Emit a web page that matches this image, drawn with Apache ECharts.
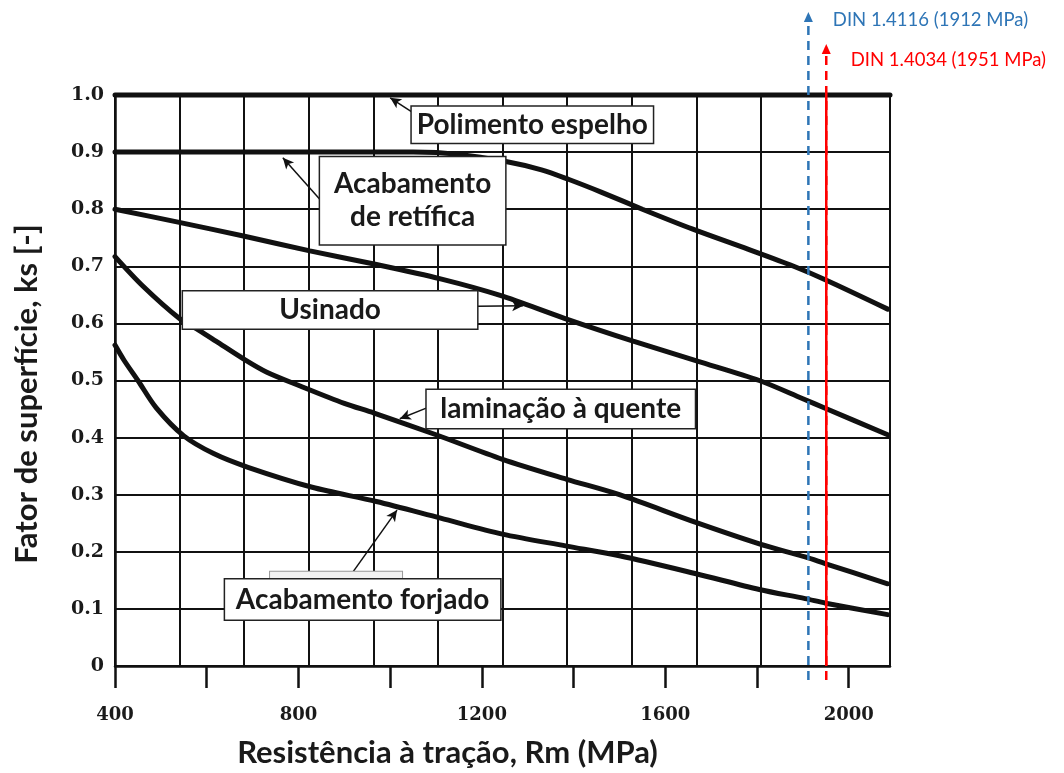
<!DOCTYPE html>
<html><head><meta charset="utf-8">
<script src="https://cdn.jsdelivr.net/npm/echarts@6/dist/echarts.min.js"></script>
<style>html,body{margin:0;padding:0;background:#fff}#c{width:1064px;height:773px}</style>
</head><body><div id="c"></div>
<script>
// ---------- data ----------
const xTickValues = [400, 600, 800, 1000, 1200, 1400, 1600, 1800, 2000];
const xLabelValues = [400, 800, 1200, 1600, 2000];
const xTitle = 'Resistência à tração, Rm (MPa)';
const yTitle = 'Fator de superfície, ks [-]';

const polimentoEspelho = [[400, 1.0], [2090, 1.0]];
const acabamentoRetifica = [[400, 0.9], [800, 0.9], [1050, 0.9], [1150, 0.896], [1255, 0.883], [1330, 0.869], [1390, 0.852], [1460, 0.83], [1550, 0.8], [1660, 0.765], [1780, 0.73], [1880, 0.7], [1950, 0.676], [2085, 0.625]];
const usinado = [[400, 0.8], [540, 0.777], [680, 0.753], [825, 0.727], [965, 0.704], [1110, 0.678], [1240, 0.649], [1380, 0.609], [1530, 0.569], [1670, 0.534], [1805, 0.5], [1900, 0.468], [1950, 0.451], [2085, 0.405]];
const laminacaoQuente = [[400, 0.717], [460, 0.666], [540, 0.609], [585, 0.587], [620, 0.569], [680, 0.538], [730, 0.515], [805, 0.49], [900, 0.46], [965, 0.443], [1100, 0.405], [1245, 0.362], [1385, 0.327], [1500, 0.3], [1665, 0.252], [1805, 0.214], [1905, 0.191], [1950, 0.179], [2085, 0.144]];
const acabamentoForjado = [[400, 0.562], [420, 0.535], [450, 0.5], [490, 0.452], [550, 0.403], [615, 0.372], [690, 0.348], [830, 0.313], [970, 0.288], [1110, 0.259], [1245, 0.231], [1385, 0.21], [1500, 0.193], [1665, 0.162], [1805, 0.134], [1905, 0.118], [1950, 0.11], [2085, 0.09]];

const curveNames = ['Polimento espelho', 'Acabamento de retífica', 'Usinado', 'laminação à quente', 'Acabamento forjado'];
const annotationTexts = ['Polimento espelho', 'Acabamento\nde retífica', 'Usinado', 'laminação à quente', 'Acabamento forjado'];

const materialNames = ['DIN 1.4116', 'DIN 1.4034'];
const materialRm = [1912, 1951];

// ---------- layout / style (not data) ----------
const INK = '#111';
const annotationLayout = [
  { at: [1310, 0.948], w: 241, h: 36 },
  { at: [1049, 0.815], w: 185, h: 87 },
  { at: [869, 0.6235], w: 294, h: 37 },
  { at: [1372, 0.45], w: 268, h: 38 },
  { at: [940, 0.1165], w: 275, h: 40 }
];
const ghostBox = { at: [882, 0.158], w: 132, h: 8 };
const arrowLayout = [
  [[1048, 0.970], [1000, 0.995]],
  [[847, 0.817], [766, 0.890]],
  [[1189, 0.630], [1290, 0.631]],
  [[1080, 0.452], [1021, 0.433]],
  [[912, 0.157], [1015, 0.273]]
];
const materialStyle = [
  { color: '#2E75B6', top: 0.9896, labelOffset: [0, 3] },
  { color: '#FF0000', top: 0.9418, labelOffset: [0, 11] }
];
const BOX_FONT = { fontFamily: 'Lato', fontWeight: 'bold', fontSize: 28, color: '#1a1a1a' };
const TITLE_FONT = { fontFamily: 'Lato', fontWeight: 'bold', color: '#1a1a1a' };
const TICK_FONT = { fontFamily: 'DejaVu Serif', fontWeight: 'bold', fontSize: 18, color: '#1a1a1a' };

// ---------- build ----------
const curves = [polimentoEspelho, acabamentoRetifica, usinado, laminacaoQuente, acabamentoForjado];
const series = [];
curves.forEach((d, i) => {
  series.push({
    name: curveNames[i], type: 'line', xAxisIndex: 0, yAxisIndex: 0,
    data: d, smooth: 0.3, symbol: 'none', clip: false, silent: true, z: 3,
    lineStyle: { color: INK, width: 5, cap: 'round' }
  });
});

materialNames.forEach((n, i) => {
  const st = materialStyle[i];
  if (i === 1) {
    series.push({
      type: 'line', xAxisIndex: 0, yAxisIndex: 0, silent: true, z: 4, symbol: 'none',
      data: [[materialRm[i], 0], [materialRm[i], 1]],
      lineStyle: { color: st.color, width: 2.5 }
    });
  }
  series.push({
    type: 'line', xAxisIndex: 2, yAxisIndex: 1, silent: true, z: 5, clip: false,
    data: [
      { value: [materialRm[i], 0], symbol: 'none' },
      { value: [materialRm[i], st.top], symbol: 'triangle', symbolSize: [9, 10],
        label: { show: true, position: 'right', distance: 20, offset: st.labelOffset,
          formatter: n + ' (' + materialRm[i] + ' MPa)',
          fontFamily: 'Lato', fontSize: 18.5, color: st.color } }
    ],
    itemStyle: { color: st.color },
    lineStyle: { color: st.color, width: 2.5, type: [9, 6] }
  });
});

const annData = [{
  value: ghostBox.at, label: { show: true, formatter: ' ', width: ghostBox.w, height: ghostBox.h,
    backgroundColor: '#f2f2f2', borderColor: '#999', borderWidth: 1 }
}];
annotationTexts.forEach((t, i) => {
  const L = annotationLayout[i];
  annData.push({
    value: L.at,
    label: { show: true, formatter: t, width: L.w, height: L.h, lineHeight: 33 }
  });
});
series.push({
  type: 'scatter', xAxisIndex: 0, yAxisIndex: 0, z: 10, silent: true, clip: false,
  symbolSize: 2, itemStyle: { color: 'rgba(0,0,0,0)', opacity: 1 },
  label: Object.assign({ show: true, position: 'inside', align: 'center', verticalAlign: 'middle',
    opacity: 1, backgroundColor: '#fff', borderColor: '#222', borderWidth: 1.5 }, BOX_FONT),
  data: annData,
  markLine: {
    silent: true, symbol: ['none', 'arrow'], symbolSize: [8, 11], animation: false,
    lineStyle: { color: INK, width: 1.5, type: 'solid', opacity: 1 },
    label: { show: false },
    data: arrowLayout.map(a => [{ coord: a[0] }, { coord: a[1] }])
  }
});

const option = {
  animation: false,
  backgroundColor: '#fff',
  graphic: [{
    type: 'text', x: 27, y: 394, rotation: Math.PI / 2, silent: true,
    style: Object.assign({ text: yTitle, align: 'center', verticalAlign: 'middle', fontSize: 31, fill: '#1a1a1a' },
      { fontFamily: 'Lato', fontWeight: 'bold' })
  }],
  grid: [
    { left: 115, right: 174, top: 95, bottom: 103 },
    { left: 115, right: 174, top: 10, bottom: 93 }
  ],
  xAxis: [
    { gridIndex: 0, type: 'value', min: 400, max: 2090, position: 'bottom', offset: 8,
      axisLine: { show: true, lineStyle: { color: INK, width: 2.5 } },
      axisTick: { show: true, customValues: xTickValues, length: 22, lineStyle: { color: INK, width: 2.5 } },
      axisLabel: Object.assign({ customValues: xLabelValues, margin: 32, formatter: v => String(v) }, TICK_FONT),
      splitLine: { show: false },
      name: xTitle, nameLocation: 'middle', nameGap: 63,
      nameTextStyle: Object.assign({}, TITLE_FONT, { fontSize: 31, padding: [0, 110, 0, 0] })
    },
    { gridIndex: 0, type: 'value', min: 0, max: 12, interval: 1, position: 'top',
      axisLine: { show: false }, axisTick: { show: false }, axisLabel: { show: false },
      splitLine: { show: true, lineStyle: { color: INK, width: 2 } }
    },
    { gridIndex: 1, type: 'value', min: 400, max: 2090, show: false }
  ],
  yAxis: [
    { gridIndex: 0, type: 'value', min: 0, max: 1, interval: 0.1,
      axisLine: { show: true, lineStyle: { color: INK, width: 2.5 } },
      axisTick: { show: false },
      axisLabel: Object.assign({ margin: 11, formatter: v => (v === 0 ? '0' : v.toFixed(1)) }, TICK_FONT, { fontSize: 19 }),
      splitLine: { show: true, lineStyle: { color: INK, width: 2 } }
    },
    { gridIndex: 1, type: 'value', min: 0, max: 1, show: false }
  ],
  series: series
};
const chart = echarts.init(document.getElementById('c'));
chart.setOption(option);
</script></body></html>
